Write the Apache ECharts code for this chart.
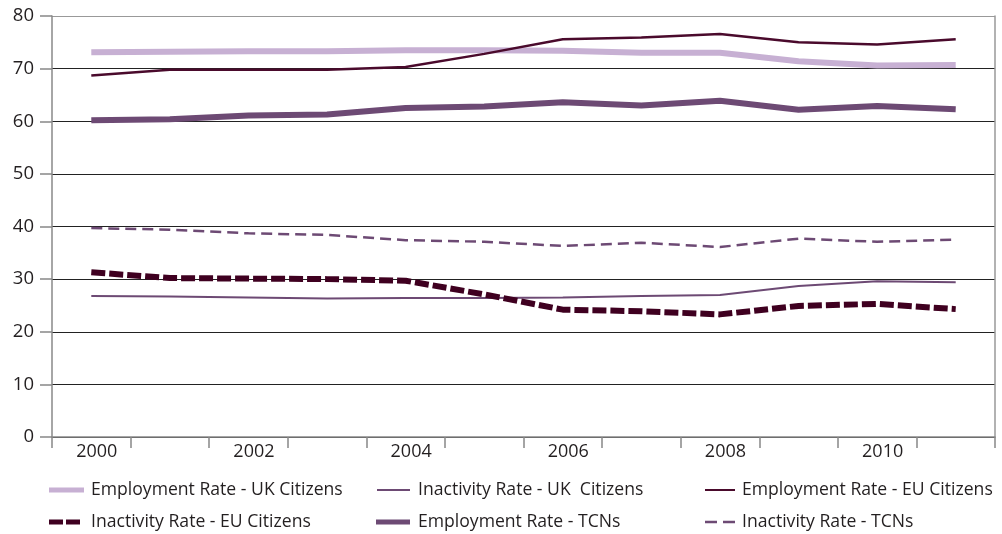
<!DOCTYPE html>
<html><head><meta charset="utf-8">
<script src="https://cdn.jsdelivr.net/npm/echarts@6/dist/echarts.min.js"></script>
<style>html,body{margin:0;padding:0;background:#fff}#c{width:1002px;height:534px}</style>
</head><body><div id="c"></div>
<script>
const years = ['2000','2001','2002','2003','2004','2005','2006','2007','2008','2009','2010','2011'];
const yTicks = [0,10,20,30,40,50,60,70,80];
const empUK   = [73.1,73.2,73.3,73.3,73.5,73.5,73.4,73.0,73.0,71.4,70.6,70.7];
const inactUK = [26.8,26.7,26.5,26.3,26.4,26.4,26.5,26.8,27.0,28.7,29.6,29.4];
const empEU   = [68.7,69.8,69.8,69.8,70.3,72.8,75.6,75.9,76.6,75.0,74.6,75.6];
const inactEU = [31.3,30.2,30.1,30.0,29.7,27.1,24.2,23.9,23.3,24.9,25.3,24.3];
const empTCN  = [60.2,60.4,61.1,61.3,62.5,62.8,63.6,63.0,63.9,62.2,62.9,62.3];
const inactTCN= [39.7,39.4,38.7,38.4,37.4,37.1,36.3,36.9,36.1,37.7,37.1,37.5];

const FONT = 'Open Sans';
const TXT = '#231f20';
const cLight = '#c7b0d3', cMid = '#6d4a74', cDark = '#4a0a2c', cDash = '#3f0020';

const chart = echarts.init(document.getElementById('c'), null, {renderer:'canvas'});
const SOLID_THICK = 'path://M0,0h35v5h-35z';
const SOLID_THIN = 'path://M0,0h33v2.2h-33z';
const DASH_THICK = 'path://M0,0h14v5h-14z M17,0h14v5h-14z';
const DASH_THIN = 'path://M0,0h12v2.5h-12z M18,0h12v2.5h-12z';
function leg(left, top, name, icon, w, h, pad){
  return {left:left, top:top, orient:'horizontal', itemWidth:w, itemHeight:h, itemGap:0, padding:0,
    data:[{name:name, icon:icon}], selectedMode:false,
    textStyle:{fontFamily:FONT, fontSize:17.6, lineHeight:20, color:TXT, padding:[0,0,0,pad]}};
}
chart.setOption({
  animation:false,
  textStyle:{fontFamily:FONT},
  grid:{left:52, right:7, top:16, bottom:97, containLabel:false},
  legend:[
    leg(49, 480, 'Employment Rate - UK Citizens', SOLID_THICK, 35, 5, 2),
    leg(49, 512, 'Inactivity Rate - EU Citizens', DASH_THICK, 31, 5, 6),
    leg(377, 480, 'Inactivity Rate - UK  Citizens', SOLID_THIN, 33, 2.2, 3),
    leg(376, 512, 'Employment Rate - TCNs', SOLID_THICK, 34, 5, 3),
    leg(705, 480, 'Employment Rate - EU Citizens', SOLID_THIN, 30, 2.4, 2),
    leg(705, 512, 'Inactivity Rate - TCNs', DASH_THIN, 30, 2.5, 2)
  ],
  xAxis:{type:'category', data:years, boundaryGap:true,
    axisLine:{lineStyle:{color:'#888', width:1.5}},
    axisTick:{show:true, interval:0, length:11, lineStyle:{color:'#888', width:1.5}},
    axisLabel:{interval:1, fontSize:18, color:TXT, fontFamily:FONT, margin:6, padding:[0,0,0,11]},
    splitLine:{show:false}},
  yAxis:[{type:'value', min:0, max:80, interval:10,
    axisLine:{show:true, lineStyle:{color:'#888', width:1.5}},
    axisTick:{show:true, length:12, lineStyle:{color:'#888', width:1.5}},
    axisLabel:{fontSize:18.5, color:TXT, fontFamily:FONT, margin:18,
      formatter:v=> yTicks.includes(v) ? String(v) : ''},
    splitLine:{show:true, lineStyle:{color:['#222','#222','#222','#222','#222','#222','#222','#222','#999'], width:1.2}}},
    {type:'value', min:0, max:80, interval:10, position:'right',
    axisLine:{show:true, lineStyle:{color:'#999', width:1.5}},
    axisTick:{show:false}, axisLabel:{show:false}, splitLine:{show:false}}],
  series:[
    {name:'Employment Rate - UK Citizens', type:'line', data:empUK, symbol:'none',
      lineStyle:{color:cLight, width:6}, itemStyle:{color:cLight}},
    {name:'Inactivity Rate - UK  Citizens', type:'line', data:inactUK, symbol:'none',
      lineStyle:{color:cMid, width:2}, itemStyle:{color:cMid}},
    {name:'Employment Rate - EU Citizens', type:'line', data:empEU, symbol:'none',
      lineStyle:{color:cDark, width:2.5}, itemStyle:{color:cDark}},
    {name:'Inactivity Rate - EU Citizens', type:'line', data:inactEU, symbol:'none',
      lineStyle:{color:cDash, width:6, type:[14,4]}, itemStyle:{color:cDash}},
    {name:'Employment Rate - TCNs', type:'line', data:empTCN, symbol:'none',
      lineStyle:{color:cMid, width:6}, itemStyle:{color:cMid}},
    {name:'Inactivity Rate - TCNs', type:'line', data:inactTCN, symbol:'none',
      lineStyle:{color:cMid, width:2.5, type:[11,6]}, itemStyle:{color:cMid}}
  ]
});
</script></body></html>
